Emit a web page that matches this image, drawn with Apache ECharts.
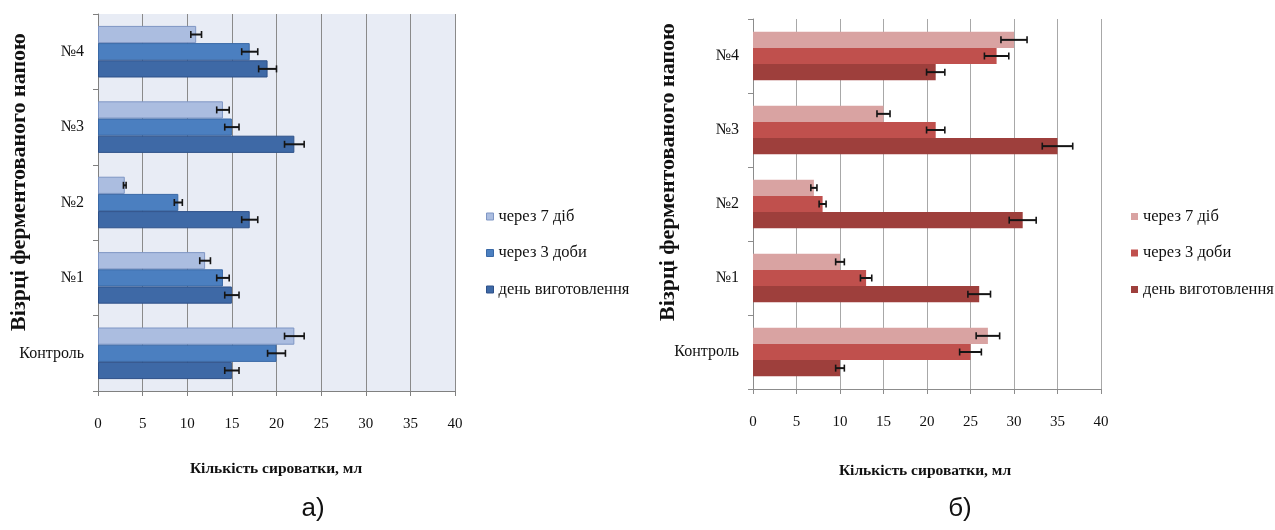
<!DOCTYPE html>
<html>
<head>
<meta charset="utf-8">
<script src="https://cdn.jsdelivr.net/npm/echarts@6/dist/echarts.min.js"></script>
<style>html,body{margin:0;padding:0;background:#fff}#c{width:1275px;height:530px}</style>
</head>
<body>
<div id="c"></div>
<script>
// ---- data ----
const categories = ['Контроль', '№1', '№2', '№3', '№4'];
const seriesNames = ['через 7 діб', 'через 3 доби', 'день виготовлення'];
const xTickValues = [0, 5, 10, 15, 20, 25, 30, 35, 40];
const yAxisTitle = 'Візрці ферментованого напою';
const xAxisTitle = 'Кількість сироватки, мл';
const panelLabels = ['а)', 'б)'];

// chart a) (blue)
const a7 = [22, 12, 3, 14, 11];
const a7err = [1.1, 0.6, 0.15, 0.7, 0.6];
const a3 = [20, 14, 9, 15, 17];
const a3err = [1.0, 0.7, 0.45, 0.8, 0.9];
const a0 = [15, 15, 17, 22, 19];
const a0err = [0.8, 0.8, 0.9, 1.1, 1.0];

// chart б) (red)
const b7 = [27, 10, 7, 15, 30];
const b7err = [1.35, 0.5, 0.35, 0.75, 1.5];
const b3 = [25, 13, 8, 21, 28];
const b3err = [1.25, 0.65, 0.4, 1.05, 1.4];
const b0 = [10, 26, 31, 35, 21];
const b0err = [0.5, 1.3, 1.55, 1.75, 1.05];

// ---- styling ----
const SERIF = '"Liberation Serif", "Times New Roman", serif';
const blue = [
  {fill: '#abbde0', border: '#7f96c4'},
  {fill: '#4b7fc0', border: '#3a69a6'},
  {fill: '#3e69a6', border: '#2e5189'}
];
const red = [
  {fill: '#d9a3a2', border: '#d9a3a2'},
  {fill: '#c0504d', border: '#c0504d'},
  {fill: '#9e3f3c', border: '#9e3f3c'}
];
const gapA = 0.316, gapB = 0.346;

function errRender(pos, gap) {
  return function (params, api) {
    const v = api.value(0), cat = api.value(1), e = api.value(2);
    const c = api.coord([v, cat]);
    const band = api.size([0, 1])[1];
    const barH = band * (1 - gap) / 3;
    const y = c[1] - barH * 1.5 + barH * (pos + 0.5);
    const xl = api.coord([v - e, cat])[0];
    const xr = api.coord([v + e, cat])[0];
    const h = 3.5;
    return {
      type: 'group',
      children: [
        {type: 'line', shape: {x1: xl, y1: y, x2: xr, y2: y}, style: {stroke: '#151515', lineWidth: 2}},
        {type: 'line', shape: {x1: xl, y1: y - h, x2: xl, y2: y + h}, style: {stroke: '#151515', lineWidth: 1.6}},
        {type: 'line', shape: {x1: xr, y1: y - h, x2: xr, y2: y + h}, style: {stroke: '#151515', lineWidth: 1.6}}
      ]
    };
  };
}

function makeSeries(idx, vals, errs, names, pal, gap) {
  const out = [];
  vals.forEach((arr, i) => {
    out.push({
      type: 'bar', name: names[i], xAxisIndex: idx, yAxisIndex: idx,
      data: arr, barGap: '0%', barCategoryGap: (gap * 100) + '%',
      itemStyle: {color: pal[i].fill, borderColor: pal[i].border, borderWidth: idx === 0 ? 1 : 0},
      emphasis: {disabled: true}, z: 2
    });
  });
  vals.forEach((arr, i) => {
    out.push({
      type: 'custom', name: 'err' + idx + '_' + i, xAxisIndex: idx, yAxisIndex: idx,
      encode: {x: 0, y: 1},
      data: arr.map((v, k) => [v, k, errs[i][k]]),
      renderItem: errRender(i, gap), z: 5, silent: true
    });
  });
  return out;
}

const xMin = xTickValues[0], xMax = xTickValues[xTickValues.length - 1];
const xStep = xTickValues[1] - xTickValues[0];

function xAxisCfg(idx, gridColor, axisColor) {
  return {
    type: 'value', gridIndex: idx, min: xMin, max: xMax, interval: xStep,
    axisLine: {show: true, lineStyle: {color: axisColor, width: 1}},
    axisTick: {show: true, length: 5, lineStyle: {color: axisColor}},
    splitLine: {show: true, lineStyle: {color: gridColor, width: 1}},
    axisLabel: {color: '#111', fontFamily: SERIF, fontSize: 15, margin: 26}
  };
}
function yAxisCfg(idx, axisColor) {
  return {
    type: 'category', gridIndex: idx, data: categories,
    axisLine: {show: true, lineStyle: {color: axisColor, width: 1}},
    axisTick: {show: true, length: 5, lineStyle: {color: axisColor}},
    axisLabel: {color: '#111', fontFamily: SERIF, fontSize: 16, margin: 14}
  };
}

function legendCfg(left, pal, withBorder) {
  return {
    orient: 'vertical', left: left, top: 208, padding: 0,
    itemWidth: 7, itemHeight: 7, itemGap: 19.5,
    icon: 'rect', selectedMode: false,
    textStyle: {fontFamily: SERIF, fontSize: 16.5, color: '#111', lineHeight: 17},
    data: seriesNames.map((n, i) => ({
      name: n,
      itemStyle: withBorder ? {color: pal[i].fill, borderColor: pal[i].border, borderWidth: 1} : {color: pal[i].fill, borderWidth: 0}
    }))
  };
}

const chart = echarts.init(document.getElementById('c'), null, {renderer: 'canvas'});
chart.setOption({
  backgroundColor: '#ffffff',
  animation: false,
  grid: [
    {left: 98, top: 14, width: 357, height: 377, show: true, backgroundColor: '#e8ecf5', borderWidth: 0},
    {left: 753, top: 19, width: 348, height: 370, show: false}
  ],
  xAxis: [xAxisCfg(0, '#8a8a8a', '#808080'), xAxisCfg(1, '#a8a8a8', '#8c8c8c')],
  yAxis: [yAxisCfg(0, '#808080'), yAxisCfg(1, '#8c8c8c')],
  legend: [legendCfg(486, blue, true), legendCfg(1131, red, false)],
  graphic: [
    {type: 'text', x: 19, y: 182, rotation: Math.PI / 2, style: {text: yAxisTitle, font: 'bold 22px ' + SERIF, fill: '#111', textAlign: 'center', textVerticalAlign: 'middle'}},
    {type: 'text', x: 668, y: 172, rotation: Math.PI / 2, style: {text: yAxisTitle, font: 'bold 22px ' + SERIF, fill: '#111', textAlign: 'center', textVerticalAlign: 'middle'}},
    {type: 'text', x: 276, y: 469, style: {text: xAxisTitle, font: 'bold 15.5px ' + SERIF, fill: '#111', textAlign: 'center', textVerticalAlign: 'middle'}},
    {type: 'text', x: 925, y: 471, style: {text: xAxisTitle, font: 'bold 15.5px ' + SERIF, fill: '#111', textAlign: 'center', textVerticalAlign: 'middle'}},
    {type: 'text', x: 313, y: 509, style: {text: panelLabels[0], font: '26px "Liberation Sans", Arial, sans-serif', fill: '#111', textAlign: 'center', textVerticalAlign: 'middle'}},
    {type: 'text', x: 960, y: 509, style: {text: panelLabels[1], font: '26px "Liberation Sans", Arial, sans-serif', fill: '#111', textAlign: 'center', textVerticalAlign: 'middle'}}
  ],
  series: [].concat(
    makeSeries(0, [a7, a3, a0], [a7err, a3err, a0err], seriesNames, blue, gapA),
    makeSeries(1, [b7, b3, b0], [b7err, b3err, b0err], seriesNames, red, gapB)
  )
});
</script>
</body>
</html>
